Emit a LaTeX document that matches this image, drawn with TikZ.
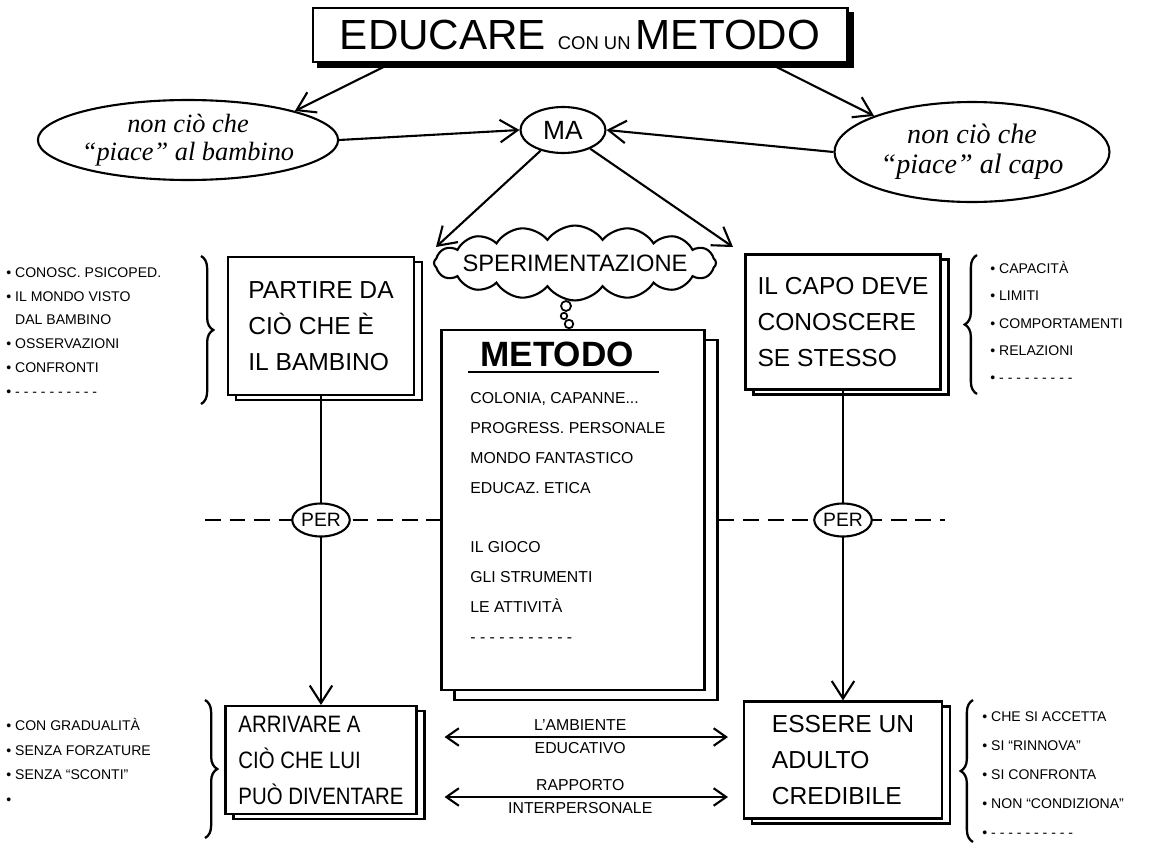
\documentclass[tikz,border=0pt]{standalone}
\usepackage{fontspec}
\setmainfont{Liberation Sans}
\newfontfamily\capsfont{Liberation Sans}[FakeStretch=0.86]
\newfontfamily\handfont{Liberation Serif}
\usetikzlibrary{arrows.meta, shapes, shadows, positioning, decorations.pathreplacing}

\tikzset{
  box/.style={draw, fill=white, line width=1.2pt, align=left, inner sep=0pt,
    font=\fontsize{14}{20.5}\selectfont,
    copy shadow={shadow xshift=0.16cm, shadow yshift=-0.1cm, line width=1.4pt}},
  bubble/.style={draw, ellipse, fill=white, line width=1.2pt, inner sep=0pt},
  arr/.style={-{Straight Barb[length=3.5mm, width=4.5mm]}, line width=1.2pt},
  twoway/.style={{Straight Barb[length=2.5mm, width=3.5mm]}-{Straight Barb[length=2.5mm, width=3.5mm]}, line width=1.2pt},
  note/.style={align=left, inner sep=0pt, anchor=north west},
  curly/.style={decorate, decoration={brace, amplitude=7pt}, line width=1.3pt},
}

\begin{document}
\begin{tikzpicture}[x=0.02cm, y=-0.02cm]
        \useasboundingbox (0,0) rectangle (1162,845);

        \node[draw, fill=white, line width=1.2pt, minimum width=10.7cm, minimum height=1.08cm,
            copy shadow={shadow xshift=0.1cm, shadow yshift=-0.1cm, fill=black}] (title) at (580,35)
            {\fontsize{24}{24}\selectfont EDUCARE \fontsize{10.5}{10.5}\selectfont CON UN \fontsize{24}{24}\selectfont METODO};

        \node[bubble, minimum width=5.8cm, minimum height=1.6cm, align=center,
            font=\handfont\itshape\fontsize{15}{16}\selectfont] (kid) at (188,140) {non ciò che\\“piace” al bambino};
        \node[bubble, minimum width=5.5cm, minimum height=2cm, align=center,
            font=\handfont\itshape\fontsize{16}{17}\selectfont] (chief) at (972,152) {non ciò che\\“piace” al capo};
        \node[bubble, minimum width=1.7cm, minimum height=0.92cm, font=\fontsize{15}{15}\selectfont] (ma) at (563,130) {MA};

        \path[arr] ([xshift=1.6cm]title.south west) edge (kid.north east);
        \path[arr] ([xshift=-1.6cm]title.south east) edge (chief.north west);
        \path[arr] (kid.east) edge (ma.west);
        \path[arr] (chief.west) edge (ma.east);

        \coordinate (lefttip) at (436,247);
        \coordinate (righttip) at (733,247);
        \path[arr] (ma) edge (lefttip);
        \path[arr] (ma) edge (righttip);

        \node[box, minimum width=3.72cm, minimum height=2.76cm] (start) at (321,326) {PARTIRE DA\\CIÒ CHE È\\IL BAMBINO};
        \node[box, minimum width=3.9cm, minimum height=2.7cm] (capo) at (843,322) {IL CAPO DEVE\\CONOSCERE\\SE STESSO};
        \node[box, minimum width=3.82cm, minimum height=2.16cm, font=\capsfont\fontsize{13.5}{20.5}\selectfont] (arrive) at (321,760) {ARRIVARE A\\CIÒ CHE LUI\\PUÒ DIVENTARE};
        \node[box, minimum width=3.96cm, minimum height=2.34cm] (adult) at (843,760) {ESSERE UN\\ADULTO\\CREDIBILE};

        \node[cloud, draw, fill=white, line width=1.2pt, cloud puffs=16, cloud puff arc=110, aspect=6,
            inner xsep=-0.25cm, inner ysep=-1pt, font=\fontsize{13.5}{13.5}\selectfont] (trial) at (575,263) {SPERIMENTAZIONE};
        \node[circle, draw, line width=1pt, minimum size=0.2cm, inner sep=0pt] (bub1) at (566,306) {};
        \node[circle, draw, line width=1pt, minimum size=0.13cm, inner sep=0pt] (bub2) at (564,316) {};
        \node[circle, draw, line width=1pt, minimum size=0.17cm, inner sep=0pt] (bub3) at (569,324) {};

        \node[draw, fill=white, line width=1.2pt, minimum width=5.26cm, minimum height=7.2cm,
            copy shadow={shadow xshift=0.26cm, shadow yshift=-0.2cm, line width=1.2pt}] (paper) at (573,510) {};
        \node[anchor=base west, inner sep=0pt, font=\bfseries\fontsize{20}{20}\selectfont] (methead) at (480,366) {METODO};
        \draw[line width=1.4pt] ([xshift=-0.24cm, yshift=-0.12cm]methead.base west) -- ([xshift=0.5cm, yshift=-0.12cm]methead.base east);
        \node[note, font=\fontsize{9}{17}\selectfont] (metlist) at (470,392)
            {COLONIA, CAPANNE...\\PROGRESS. PERSONALE\\MONDO FANTASTICO\\EDUCAZ. ETICA\\[17pt]IL GIOCO\\GLI STRUMENTI\\LE ATTIVITÀ\\- - - - - - - - - - -};

        \coordinate (dashL) at (205,520);
        \coordinate (dashR) at (945,520);
        \draw[line width=1.2pt, dash pattern=on 9pt off 5pt] (dashL) -- (paper.west |- dashL);
        \draw[line width=1.2pt, dash pattern=on 9pt off 5pt] ([xshift=0.26cm]paper.east |- dashR) -- (dashR);

        \path[arr] (start.south) edge (arrive.north);
        \path[arr] (capo.south) edge (adult.north);
        \node[bubble, minimum width=1.15cm, minimum height=0.66cm, font=\fontsize{11}{11}\selectfont] (per1) at (321,520) {PER};
        \node[bubble, minimum width=1.15cm, minimum height=0.66cm, font=\fontsize{11}{11}\selectfont] (per2) at (843,520) {PER};

        \path[twoway, shorten <=0.54cm, shorten >=0.3cm, font=\fontsize{9}{9}\selectfont]
            ([yshift=0.46cm]arrive.east) edge node[above, inner sep=3pt] {L'AMBIENTE} node[below, inner sep=2.5pt] {EDUCATIVO} ([yshift=0.46cm]adult.west);
        \path[twoway, shorten <=0.54cm, shorten >=0.3cm, font=\fontsize{9}{9}\selectfont]
            ([yshift=-0.74cm]arrive.east) edge node[above, inner sep=3pt] {RAPPORTO} node[below, inner sep=2.5pt] {INTERPERSONALE} ([yshift=-0.74cm]adult.west);

        \draw[curly] (201,256) -- (201,404);
        \draw[curly] (977,394) -- (977,255);
        \draw[curly] (205,700) -- (205,838);
        \draw[curly] (973,842) -- (973,700);

        \node[note, font=\fontsize{8}{13.6}\selectfont] (kidlist) at (6,267)
            {\textbullet\ CONOSC. PSICOPED.\\\textbullet\ IL MONDO VISTO\\\phantom{\textbullet}\ DAL BAMBINO\\\textbullet\ OSSERVAZIONI\\\textbullet\ CONFRONTI\\\textbullet\ - - - - - - - - - -};
        \node[note, font=\fontsize{8}{15.5}\selectfont] (capolist) at (990,261)
            {\textbullet\ CAPACITÀ\\\textbullet\ LIMITI\\\textbullet\ COMPORTAMENTI\\\textbullet\ RELAZIONI\\\textbullet\ - - - - - - - - -};
        \node[note, font=\fontsize{8}{14}\selectfont] (arrivelist) at (6,718)
            {\textbullet\ CON GRADUALITÀ\\\textbullet\ SENZA FORZATURE\\\textbullet\ SENZA “SCONTI”\\\textbullet};
        \node[note, font=\fontsize{8}{16.5}\selectfont] (adultlist) at (982,711)
            {\textbullet\ CHE SI ACCETTA\\\textbullet\ SI “RINNOVA”\\\textbullet\ SI CONFRONTA\\\textbullet\ NON “CONDIZIONA”\\\textbullet\ - - - - - - - - - -};
\end{tikzpicture}
\end{document}
